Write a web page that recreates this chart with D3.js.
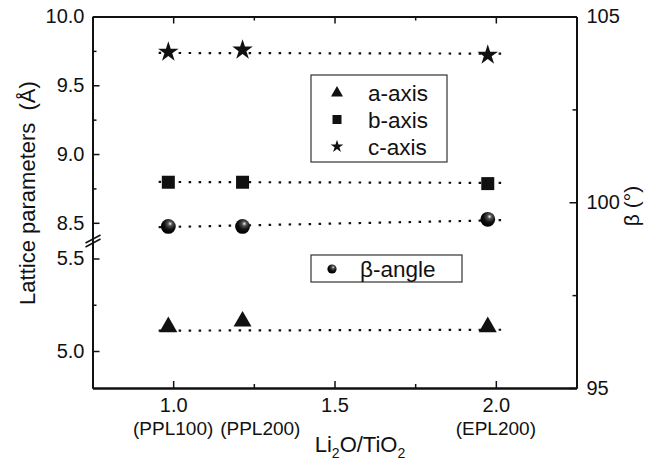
<!DOCTYPE html>
<html><head><meta charset="utf-8">
<script src="https://cdn.jsdelivr.net/npm/d3@7"></script>
<style>body{margin:0;background:#fff}svg{font-family:"Liberation Sans",Arial,sans-serif}</style>
</head><body><svg id="c" width="665" height="463"></svg>
<script>
// ---- data ----
const ratio = [0.985, 1.215, 1.975];
const sampleLabels = ["(PPL100)", "(PPL200)", "(EPL200)"];
const sampleLabelX = [1.0, 1.27, 2.0];
const aAxis = [5.13, 5.16, 5.13];
const bAxis = [8.795, 8.795, 8.785];
const cAxis = [9.742, 9.757, 9.72];
const betaAngle = [99.35, 99.35, 99.54];
const fitX = [0.955, 2.03];
const fitA = [5.11, 5.115];
const fitB = [8.797, 8.79];
const fitC = [9.735, 9.73];
const fitBeta = [99.33, 99.52];
const xTicks = [1.0, 1.5, 2.0];
const xMinor = [1.25, 1.75];
const upTicks = [10.0, 9.5, 9.0, 8.5];
const upMinor = [9.75, 9.25, 8.75];
const lowTicks = [5.5, 5.0];
const lowMinor = [5.25];
const rTicks = [95, 100, 105];
const rMinor = [97.5, 102.5];

const svg = d3.select("#c");
const L = 92.5, R = 576.5, T = 16.5, B = 388, BRK = 240;
const x = d3.scaleLinear([0.75, 2.25], [L, R]);
const yUp = d3.scaleLinear([8.375, 10.0], [BRK, T]);
const yLow = d3.scaleLinear([4.8, 5.6], [B, BRK]);
const yR = d3.scaleLinear([95, 105], [B, T]);

const defs = svg.append("defs");
const g = defs.append("radialGradient").attr("id", "sph").attr("cx", "62%").attr("cy", "32%").attr("r", "65%");
g.append("stop").attr("offset", "0%").attr("stop-color", "#f4f4f4");
g.append("stop").attr("offset", "22%").attr("stop-color", "#555");
g.append("stop").attr("offset", "60%").attr("stop-color", "#111");
g.append("stop").attr("offset", "100%").attr("stop-color", "#000");

function styleAxis(sel, fs) {
  sel.selectAll("path.domain").attr("stroke", "#111").attr("stroke-width", 2);
  sel.selectAll(".tick line").attr("stroke", "#111").attr("stroke-width", 1.5);
  sel.selectAll(".tick text").attr("font-size", fs).attr("fill", "#111").attr("font-family", "Liberation Sans, Arial, sans-serif");
}
// bottom
const bx = svg.append("g").attr("transform", `translate(0,${B})`)
  .call(d3.axisBottom(x).tickValues(xTicks).tickSize(-7).tickSizeOuter(0).tickPadding(10).tickFormat(d3.format(".1f")));
styleAxis(bx, 20);
const bxm = svg.append("g").attr("transform", `translate(0,${B})`)
  .call(d3.axisBottom(x).tickValues(xMinor).tickSize(-4).tickSizeOuter(0).tickFormat(""));
styleAxis(bxm, 20);
// top
const tx = svg.append("g").attr("transform", `translate(0,${T})`)
  .call(d3.axisTop(x).tickValues(xTicks).tickSize(-7).tickSizeOuter(0).tickFormat(""));
styleAxis(tx, 20);
const txm = svg.append("g").attr("transform", `translate(0,${T})`)
  .call(d3.axisTop(x).tickValues(xMinor).tickSize(-4).tickSizeOuter(0).tickFormat(""));
styleAxis(txm, 20);
// left upper/lower
const lu = svg.append("g").attr("transform", `translate(${L},0)`)
  .call(d3.axisLeft(yUp).tickValues(upTicks).tickSize(-7).tickSizeOuter(0).tickPadding(8).tickFormat(d3.format(".1f")));
styleAxis(lu, 20);
const lum = svg.append("g").attr("transform", `translate(${L},0)`)
  .call(d3.axisLeft(yUp).tickValues(upMinor).tickSize(-4).tickSizeOuter(0).tickFormat(""));
styleAxis(lum, 20);
const ll = svg.append("g").attr("transform", `translate(${L},0)`)
  .call(d3.axisLeft(yLow).tickValues(lowTicks).tickSize(-7).tickSizeOuter(0).tickPadding(8).tickFormat(d3.format(".1f")));
styleAxis(ll, 20);
const llm = svg.append("g").attr("transform", `translate(${L},0)`)
  .call(d3.axisLeft(yLow).tickValues(lowMinor).tickSize(-4).tickSizeOuter(0).tickFormat(""));
styleAxis(llm, 20);
// right
const ra = svg.append("g").attr("transform", `translate(${R},0)`)
  .call(d3.axisRight(yR).tickValues(rTicks).tickSize(-7).tickSizeOuter(0).tickPadding(10).tickFormat(d3.format("d")));
styleAxis(ra, 20);
const ram = svg.append("g").attr("transform", `translate(${R},0)`)
  .call(d3.axisRight(yR).tickValues(rMinor).tickSize(-4).tickSizeOuter(0).tickFormat(""));
styleAxis(ram, 20);

// break marks
svg.append("g").selectAll("line").data([0, 4]).join("line")
  .attr("x1", L - 7).attr("x2", L + 8)
  .attr("y1", d => BRK + 3 + d).attr("y2", d => BRK - 5 + d)
  .attr("stroke", "#111").attr("stroke-width", 1.5);

// fit lines
function fit(vals, ys) {
  svg.append("line")
    .attr("x1", x(fitX[0])).attr("x2", x(fitX[1]))
    .attr("y1", ys(vals[0])).attr("y2", ys(vals[1]))
    .attr("stroke", "#111").attr("stroke-width", 2.2).attr("stroke-dasharray", "2.5,7.5");
}
fit(fitA, yLow); fit(fitB, yUp); fit(fitC, yUp); fit(fitBeta, yR);

// markers
const sym = (type, size) => d3.symbol().type(type).size(size)();
svg.append("g").selectAll("path").data(ratio).join("path")
  .attr("d", sym(d3.symbolTriangle, 140))
  .attr("transform", (d, i) => `translate(${x(d)},${yLow(aAxis[i])})`).attr("fill", "#111");
svg.append("g").selectAll("path").data(ratio).join("path")
  .attr("d", sym(d3.symbolSquare, 169))
  .attr("transform", (d, i) => `translate(${x(d)},${yUp(bAxis[i])})`).attr("fill", "#111");
svg.append("g").selectAll("path").data(ratio).join("path")
  .attr("d", sym(d3.symbolStar, 130))
  .attr("transform", (d, i) => `translate(${x(d)},${yUp(cAxis[i])})`).attr("fill", "#111");
svg.append("g").selectAll("circle").data(ratio).join("circle")
  .attr("cx", d => x(d)).attr("cy", (d, i) => yR(betaAngle[i])).attr("r", 7.4)
  .attr("fill", "url(#sph)");

// legend 1
svg.append("rect").attr("x", 311).attr("y", 75).attr("width", 136).attr("height", 87)
  .attr("fill", "none").attr("stroke", "#333").attr("stroke-width", 1.2);
const leg = [
  {t: "a-axis", s: d3.symbolTriangle, z: 62, y: 93},
  {t: "b-axis", s: d3.symbolSquare, z: 81, y: 119.5},
  {t: "c-axis", s: d3.symbolStar, z: 50, y: 146.5}
];
leg.forEach(l => {
  svg.append("path").attr("d", sym(l.s, l.z)).attr("transform", `translate(337,${l.y})`).attr("fill", "#111");
  svg.append("text").attr("x", 368).attr("y", l.y).attr("dy", "0.36em").attr("font-size", 22.5).attr("fill", "#111").text(l.t);
});
// legend 2
svg.append("rect").attr("x", 311).attr("y", 255).attr("width", 151).attr("height", 27)
  .attr("fill", "none").attr("stroke", "#333").attr("stroke-width", 1.2);
svg.append("circle").attr("cx", 332).attr("cy", 269).attr("r", 4.6).attr("fill", "url(#sph)");
svg.append("text").attr("x", 360).attr("y", 269).attr("dy", "0.36em").attr("font-size", 22.5).attr("fill", "#111").text("β-angle");

// sample labels
svg.append("g").selectAll("text").data(sampleLabels).join("text")
  .attr("x", (d, i) => x(sampleLabelX[i])).attr("y", 435).attr("text-anchor", "middle")
  .attr("font-size", 19).attr("fill", "#111").text(d => d);

// axis titles
const xt = svg.append("text").attr("x", 360).attr("y", 452).attr("text-anchor", "middle").attr("font-size", 22).attr("fill", "#111");
xt.append("tspan").text("Li");
xt.append("tspan").attr("font-size", 14).attr("dy", 6).text("2");
xt.append("tspan").attr("dy", -6).text("O/TiO");
xt.append("tspan").attr("font-size", 14).attr("dy", 6).text("2");

svg.append("text").attr("transform", "translate(35,193) rotate(-90)").attr("text-anchor", "middle")
  .attr("font-size", 22).attr("fill", "#111").attr("xml:space", "preserve").text("Lattice parameters  (Å)");
svg.append("text").attr("transform", "translate(639,206) rotate(-90)").attr("text-anchor", "middle")
  .attr("font-size", 21).attr("fill", "#111").text("β (°)");
</script></body></html>
